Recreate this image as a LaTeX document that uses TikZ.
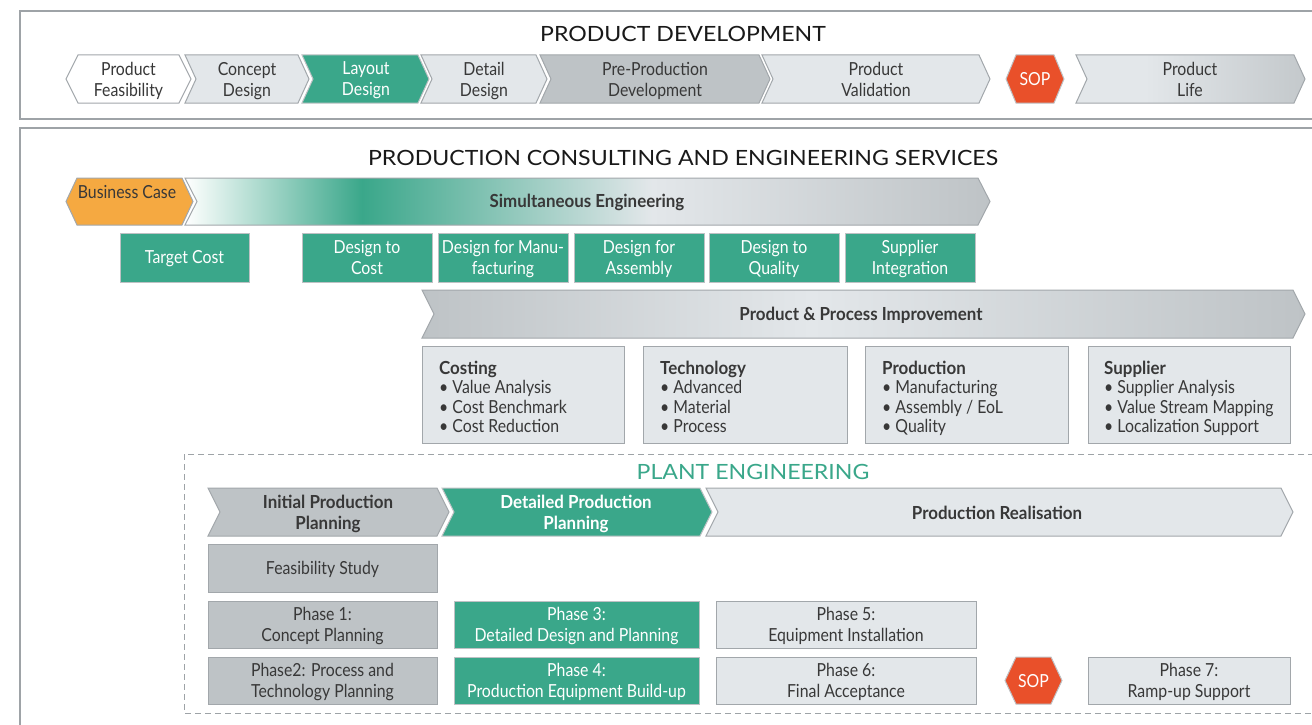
\documentclass[tikz,border=0pt]{standalone}
\usepackage{fontspec}
\setmainfont{Lato}
\newfontfamily\pdcond[FakeStretch=0.88, BoldFeatures={FakeStretch=0.94}]{Lato}
\newfontfamily\pdwide[FakeStretch=1.1]{Lato}
\newcommand\pdbody{\pdcond\fontsize{18}{21}\selectfont}
\newcommand\pdlist{\pdcond\fontsize{18}{19.5}\selectfont}
\newcommand\pdtitle{\pdwide\fontsize{21}{24}\selectfont}

\definecolor{pdteal}{HTML}{3AA78A}
\definecolor{pdlight}{HTML}{E3E7EA}
\definecolor{pdgray}{HTML}{BEC3C6}
\definecolor{pdedge}{HTML}{A2A7AB}
\definecolor{pdframe}{HTML}{9EA3A7}
\definecolor{pdtext}{HTML}{383838}
\definecolor{pdsop}{HTML}{E9502A}
\definecolor{pdorange}{HTML}{F5A941}

% horizontal blends; the middle 50bp span covers the filled path
\pgfdeclarehorizontalshading{pdsimeng}{100bp}{color(0bp)=(white); color(25bp)=(white); color(36bp)=(pdteal); color(54bp)=(pdlight); color(75bp)=(pdgray); color(100bp)=(pdgray)}
\pgfdeclarehorizontalshading{pdppi}{100bp}{color(0bp)=(pdgray); color(25bp)=(pdgray); color(47bp)=(pdlight); color(75bp)=(pdgray); color(100bp)=(pdgray)}
\pgfdeclarehorizontalshading{pdlife}{100bp}{color(0bp)=(pdlight); color(25bp)=(pdlight); color(40bp)=(pdlight); color(75bp)=(pdgray!85!pdlight); color(100bp)=(pdgray!85!pdlight)}

% chevron: notched left side, pointed right side
% #1 style, #2 left x, #3 tip x, #4 top y, #5 bottom y, #6 tip depth
\newcommand\pdchev[6]{\path[#1] (#2,#4) -- ({#3-#6},#4) -- (#3,{(#4+#5)/2}) -- ({#3-#6},#5) -- (#2,#5) -- ({#2+#6},{(#4+#5)/2}) -- cycle;}
% hexagon: pointed on both sides
\newcommand\pdhex[6]{\path[#1] (#2,{(#4+#5)/2}) -- ({#2+#6},#4) -- ({#3-#6},#4) -- (#3,{(#4+#5)/2}) -- ({#3-#6},#5) -- ({#2+#6},#5) -- cycle;}

\begin{document}
\begin{tikzpicture}[x=1pt,y=-1pt,
  whitefill/.style={fill=white, draw=pdedge, line width=1pt},
  lightfill/.style={fill=pdlight, draw=pdedge, line width=1pt},
  grayfill/.style={fill=pdgray, draw=pdedge, line width=1pt},
  tealfill/.style={fill=pdteal, draw=pdedge!70, line width=1pt},
  sopfill/.style={fill=pdsop, draw=pdedge!70, line width=1pt},
  orangefill/.style={fill=pdorange, draw=pdedge, line width=1pt},
  frame/.style={draw=pdframe, line width=1.4pt},
  dashframe/.style={draw=pdframe, line width=1pt, dash pattern=on 6pt off 4pt},
  txt/.style={font=\pdbody, text=pdtext, align=center, inner sep=0pt, text depth=0pt},
  wtxt/.style={txt, text=white},
  btxt/.style={txt, font=\pdbody\bfseries},
  wbtxt/.style={btxt, text=white},
  ltxt/.style={txt, font=\pdlist, align=left, anchor=west},
  title/.style={font=\pdtitle, text=black!90, inner sep=0pt}]
\useasboundingbox (0,0) rectangle (1312,725);
\clip (0,0) rectangle (1312,725);

% ---------- product development ----------
\path[frame] (20,11) rectangle (1340,119);
\node[title] (pdtitle) at (683,34) {PRODUCT DEVELOPMENT};

\pdhex{whitefill}{66}{191}{55}{103}{12}
\node[txt] (pf) at (128.5,79) {Product\\Feasibility};
\pdchev{lightfill}{185}{309}{55}{103}{11}
\node[txt] (cd) at (247,79) {Concept\\Design};
\pdchev{tealfill}{302}{429}{55}{103}{11}
\node[wtxt] (ld) at (366,79) {Layout\\Design};
\pdchev{lightfill}{421}{547}{55}{103}{11}
\node[txt] (dd) at (484,79) {Detail\\Design};
\pdchev{grayfill}{540}{770}{55}{103}{11}
\node[txt] (ppd) at (655,79) {Pre-Production\\Development};
\pdchev{lightfill}{762}{990}{55}{103}{11}
\node[txt] (pv) at (876,79) {Product\\Validation};
\pdhex{sopfill}{1006}{1064}{55}{103}{10}
\node[wtxt] (sopa) at (1035,79) {SOP};
\pdchev{shading=pdlife, draw=pdedge, line width=1pt}{1076}{1305}{55}{103}{11}
\node[txt] (pl) at (1190,79) {Product\\Life};

% ---------- consulting and engineering services ----------
\path[frame] (20,128) rectangle (1340,760);
\node[title] (pcetitle) at (683,158) {PRODUCTION CONSULTING AND ENGINEERING SERVICES};

\pdhex{orangefill}{66}{193}{178}{225}{11}
\node[txt] (bc) at (127,192) {Business Case};
\pdchev{shading=pdsimeng, draw=pdedge, line width=1pt}{185}{990}{178}{225}{12}
\node[btxt] (se) at (587,201) {Simultaneous Engineering};

\path[tealfill] (120,233) rectangle (249,282);
\node[wtxt] (tc) at (184.5,257) {Target Cost};
\path[tealfill] (302,233) rectangle (432,282);
\node[wtxt] (dtc) at (367,257) {Design to\\Cost};
\path[tealfill] (438,233) rectangle (568,282);
\node[wtxt] (dfm) at (503,257) {Design for Manu-\\facturing};
\path[tealfill] (574,233) rectangle (704,282);
\node[wtxt] (dfa) at (639,257) {Design for\\Assembly};
\path[tealfill] (709,233) rectangle (839,282);
\node[wtxt] (dtq) at (774,257) {Design to\\Quality};
\path[tealfill] (845,233) rectangle (975,282);
\node[wtxt] (si) at (910,257) {Supplier\\Integration};

\pdchev{shading=pdppi, draw=pdedge, line width=1pt}{422}{1305}{290}{338}{12}
\node[btxt] (ppi) at (861,314) {Product \& Process Improvement};

\path[lightfill] (422,346) rectangle (624,443);
\node[ltxt] (cost) at (439,397) {\textbf{Costing}\\• Value Analysis\\• Cost Benchmark\\• Cost Reduction};
\path[lightfill] (643,346) rectangle (847,443);
\node[ltxt] (tech) at (660,397) {\textbf{Technology}\\• Advanced\\• Material\\• Process};
\path[lightfill] (865,346) rectangle (1068,443);
\node[ltxt] (prod) at (882,397) {\textbf{Production}\\• Manufacturing\\• Assembly / EoL\\• Quality};
\path[lightfill] (1088,346) rectangle (1290,443);
\node[ltxt] (supp) at (1104,397) {\textbf{Supplier}\\• Supplier Analysis\\• Value Stream Mapping\\• Localization Support};

% ---------- plant engineering ----------
\path[dashframe] (184,454) rectangle (1340,713);
\node[title, text=pdteal] (petitle) at (753,472) {PLANT ENGINEERING};

\pdchev{grayfill}{208}{449}{488}{536}{12}
\node[btxt] (ipp) at (328,512) {Initial Production\\Planning};
\pdchev{tealfill}{442}{712}{488}{536}{12}
\node[wbtxt] (dpp) at (576,512) {Detailed Production\\Planning};
\pdchev{lightfill}{706}{1293}{488}{536}{12}
\node[btxt] (pr) at (997,513) {Production Realisation};

\path[grayfill] (208,544) rectangle (437,592);
\node[txt] (fs) at (322.5,568) {Feasibility Study};
\path[grayfill] (208,601) rectangle (437,648);
\node[txt] (ph1) at (322.5,624.5) {Phase 1:\\Concept Planning};
\path[grayfill] (208,657) rectangle (437,704);
\node[txt] (ph2) at (322.5,680.5) {Phase2: Process and\\Technology Planning};
\path[tealfill] (454,601) rectangle (699,648);
\node[wtxt] (ph3) at (576.5,624.5) {Phase 3:\\Detailed Design and Planning};
\path[tealfill] (454,657) rectangle (699,704);
\node[wtxt] (ph4) at (576.5,680.5) {Phase 4:\\Production Equipment Build-up};
\path[lightfill] (716,601) rectangle (976,648);
\node[txt] (ph5) at (846,624.5) {Phase 5:\\Equipment Installation};
\path[lightfill] (716,657) rectangle (976,704);
\node[txt] (ph6) at (846,680.5) {Phase 6:\\Final Acceptance};
\pdhex{sopfill}{1005}{1062}{657}{704}{11}
\node[wtxt] (sopb) at (1033.5,680.5) {SOP};
\path[lightfill] (1088,657) rectangle (1290,704);
\node[txt] (ph7) at (1189,680.5) {Phase 7:\\Ramp-up Support};
\end{tikzpicture}
\end{document}
